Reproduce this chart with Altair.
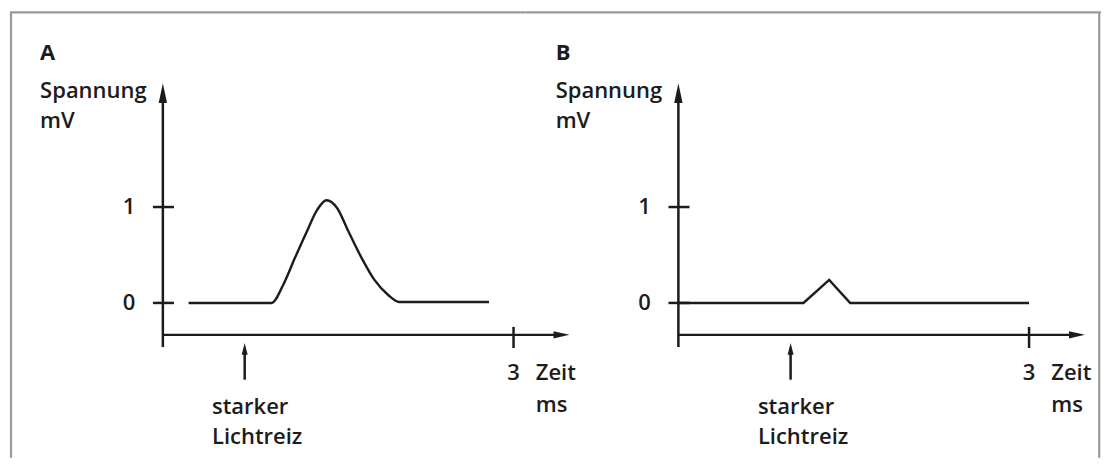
import altair as alt
import pandas as pd

# ---- data ----
# Panel A: strong light stimulus, large response (ms, mV)
a_time = [0.22, 0.93, 1.03, 1.13, 1.23, 1.32, 1.40, 1.49, 1.59, 1.70, 1.81, 1.93, 2.02, 2.79]
a_volt = [0.0, 0.0, 0.19, 0.47, 0.74, 0.97, 1.07, 0.99, 0.74, 0.47, 0.24, 0.08, 0.01, 0.01]
# Panel B: small response
b_time = [0.0, 1.07, 1.29, 1.47, 3.0]
b_volt = [0.0, 0.0, 0.24, 0.0, 0.0]
stim_time = {"A": 0.70, "B": 0.96}
y_ticks = [0, 1]
y_tick_labels = ["0", "1"]
x_tick = 3
x_tick_label = "3"
panel_labels = ["A", "B"]
y_title = ["Spannung", "mV"]
x_title = ["Zeit", "ms"]
stim_label = ["starker", "Lichtreiz"]

FONT = "Open Sans"
FS = 22
FW = 600
INK = "#1c1c1c"

V_MAX = 3.0729
HEIGHT = 450
V_MIN = V_MAX - HEIGHT / 96.0
T_MIN = -1.3077


def panel(name, times, volts, interp, width, left_border, right_border):
    t_max = T_MIN + width / 117.0
    xs = alt.Scale(domain=[T_MIN, t_max], nice=False, zero=False)
    ys = alt.Scale(domain=[V_MIN, V_MAX], nice=False, zero=False)

    def X(f):
        return alt.X(f, type="quantitative", scale=xs, axis=None)

    def Y(f):
        return alt.Y(f, type="quantitative", scale=ys, axis=None)

    layers = []
    # frame border
    border = [{"x": T_MIN, "x2": t_max, "y": 3.03, "y2": 3.03}]
    if left_border is not None:
        border.append({"x": left_border, "x2": left_border, "y": 3.03, "y2": V_MIN})
    if right_border is not None:
        border.append({"x": right_border, "x2": right_border, "y": 3.03, "y2": V_MIN})
    layers.append(alt.Chart(pd.DataFrame(border)).mark_rule(color="#9a9a9a", strokeWidth=2.2)
                  .encode(x=X("x"), x2="x2", y=Y("y"), y2="y2"))

    # axes lines and ticks
    ax = pd.DataFrame([
        {"x": 0, "x2": 0, "y": -0.46, "y2": 2.19},            # y axis
        {"x": 0, "x2": 3.41, "y": -0.333, "y2": -0.333},      # x axis
        {"x": x_tick, "x2": x_tick, "y": -0.25, "y2": -0.47},  # x tick
        {"x": -0.085, "x2": 0.095, "y": y_ticks[0], "y2": y_ticks[0]},
        {"x": -0.085, "x2": 0.095, "y": y_ticks[1], "y2": y_ticks[1]},
        {"x": stim_time[name], "x2": stim_time[name], "y": -0.80, "y2": -0.48},
    ])
    layers.append(alt.Chart(ax).mark_rule(color=INK, strokeWidth=2.5)
                  .encode(x=X("x"), x2="x2", y=Y("y"), y2="y2"))

    # arrowheads
    up = pd.DataFrame([{"x": 0, "y": 2.1875}])
    layers.append(alt.Chart(up).mark_point(shape="M0,-1L-0.42,1L0.42,1Z", size=400, filled=True,
                                           color=INK, opacity=1)
                  .encode(x=X("x"), y=Y("y")))
    right = pd.DataFrame([{"x": 3.41, "y": -0.333}])
    layers.append(alt.Chart(right).mark_point(shape="M1,0L-1,-0.45L-1,0.45Z", size=256, filled=True,
                                              color=INK, opacity=1)
                  .encode(x=X("x"), y=Y("y")))
    st = pd.DataFrame([{"x": stim_time[name], "y": -0.479}])
    layers.append(alt.Chart(st).mark_point(shape="M0,-1L-0.5,1L0.5,1Z", size=144, filled=True,
                                           color=INK, opacity=1)
                  .encode(x=X("x"), y=Y("y")))

    # curve
    cur = pd.DataFrame({"t": times, "v": volts})
    layers.append(alt.Chart(cur).mark_line(color=INK, strokeWidth=2.4, interpolate=interp)
                  .encode(x=X("t"), y=Y("v"), order="t:Q"))

    # texts
    left_txt = pd.DataFrame([
        {"x": -1.05, "y": 2.604, "label": name},
    ])
    layers.append(alt.Chart(left_txt).mark_text(align="left", baseline="middle", font=FONT,
                                                fontSize=FS, fontWeight="bold", color=INK)
                  .encode(x=X("x"), y=Y("y"), text="label:N"))
    txt = pd.DataFrame([
        {"x": -1.05, "y": 2.208, "label": y_title[0]},
        {"x": -1.05, "y": 1.896, "label": y_title[1]},
        {"x": 3.19, "y": -0.729, "label": x_title[0]},
        {"x": 3.19, "y": -1.0625, "label": x_title[1]},
        {"x": stim_time[name] - 0.28, "y": -1.083, "label": stim_label[0]},
        {"x": stim_time[name] - 0.28, "y": -1.396, "label": stim_label[1]},
    ])
    layers.append(alt.Chart(txt).mark_text(align="left", baseline="middle", font=FONT,
                                           fontSize=FS, fontWeight=FW, color=INK)
                  .encode(x=X("x"), y=Y("y"), text="label:N"))
    ctr = pd.DataFrame([
        {"x": -0.29, "y": y_ticks[0], "label": y_tick_labels[0]},
        {"x": -0.29, "y": y_ticks[1], "label": y_tick_labels[1]},
        {"x": x_tick, "y": -0.729, "label": x_tick_label},
    ])
    layers.append(alt.Chart(ctr).mark_text(align="center", baseline="middle", font=FONT,
                                           fontSize=FS, fontWeight=FW, color=INK)
                  .encode(x=X("x"), y=Y("y"), text="label:N"))

    return alt.layer(*layers).properties(width=width, height=HEIGHT)


pA = panel("A", a_time, a_volt, "monotone", 516, -1.299, None)
pB = panel("B", b_time, b_volt, "linear", 576, None, 3.60)

chart = (alt.hconcat(pA, pB, spacing=0, bounds="flush")
         .properties(padding=0, background="white")
         .configure_view(stroke=None))

chart.save("out.html", embed_options={"renderer": "svg", "actions": False})
